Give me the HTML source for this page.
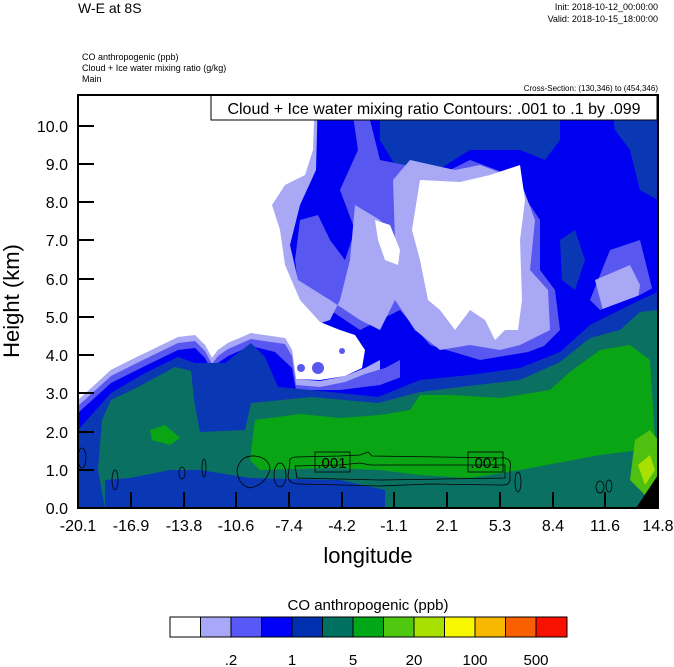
<!DOCTYPE html>
<html><head><meta charset="utf-8"><style>
html,body{margin:0;padding:0;background:#fff}
svg{display:block;font-family:"Liberation Sans",sans-serif}
</style></head><body>
<svg width="674" height="667" viewBox="0 0 674 667" xmlns="http://www.w3.org/2000/svg">
<text x="78" y="13" font-size="14">W-E at 8S</text>
<text x="658" y="10" font-size="9" text-anchor="end">Init: 2018-10-12_00:00:00</text>
<text x="658" y="22" font-size="9" text-anchor="end">Valid: 2018-10-15_18:00:00</text>
<text x="82" y="60" font-size="9">CO anthropogenic   (ppb)</text>
<text x="82" y="71" font-size="9">Cloud + Ice water mixing ratio   (g/kg)</text>
<text x="82" y="82" font-size="9">Main</text>
<text x="658" y="91" font-size="8" text-anchor="end">Cross-Section: (130,346) to (454,346)</text>
<clipPath id="c"><rect x="78" y="95" width="580" height="413"/></clipPath>
<g clip-path="url(#c)">
<rect x="78" y="95" width="580" height="413" fill="#0000f0"/>
<path d="M380,95 L560,95 L560,140 L545,160 L520,150 L470,150 L430,175 L395,165 L380,140Z" fill="#0a38b4"/>
<path d="M610,95 L658,95 L658,200 L640,190 L630,150 L615,130Z" fill="#0a38b4"/>
<path d="M560,240 L575,230 L585,260 L575,290 L562,280Z" fill="#0a38b4"/>
<path d="M300,95 L350,95 L358,150 L340,190 L355,230 L345,260 L330,240 L318,215 L300,220 L295,260 L300,300 L330,310 L360,330 L400,310 L430,345 L480,360 L540,350 L560,330 L555,290 L540,270 L540,220 L510,175 L470,160 L440,175 L405,165 L380,160 L370,120 L375,95Z" fill="#5858f0"/>
<path d="M610,250 L640,240 L655,300 L640,330 L610,320 L590,300Z" fill="#5858f0"/>
<path d="M78,95 L318,95 L316,170 L300,205 L290,245 L298,280 L330,300 L360,320 L380,330 L395,300 L415,330 L440,350 L470,345 L500,350 L520,345 L550,330 L548,290 L530,270 L535,220 L520,180 L480,165 L455,170 L410,160 L393,180 L395,240 L380,220 L355,205 L350,260 L340,300 L330,320 L300,330 L280,340 L250,345 L220,335 L200,345 L170,350 L140,355 L110,370 L90,390 L78,410Z" fill="#a8a8f5"/>
<path d="M595,280 L630,265 L640,285 L635,320 L605,318Z" fill="#a8a8f5"/>
<path d="M375,220 L390,225 L400,250 L398,265 L385,260 L378,240Z" fill="#fff"/>
<path d="M420,180 L460,182 L490,175 L520,165 L525,200 L520,240 L522,300 L518,330 L505,330 L495,340 L485,320 L470,310 L455,330 L440,310 L428,300 L420,260 L412,230Z" fill="#fff"/>
<!-- lower bands -->
<path d="M78,400 L111,370 L145,353 L178,337 L195,335 L205,345 L212,358 L218,350 L228,343 L251,333 L285,338 L292,350 L296,379 L320,381 L345,376 L365,368 L380,360 L380,508 L78,508Z" fill="#a8a8f5"/>
<path d="M78,406 L111,376 L145,359 L178,343 L195,341 L205,351 L212,364 L218,356 L228,349 L251,339 L285,344 L292,356 L296,385 L320,387 L345,382 L365,374 L385,368 L400,360 L400,508 L78,508Z" fill="#5858f0"/>
<path d="M78,413 L111,383 L145,366 L178,350 L195,348 L205,358 L212,371 L218,363 L228,356 L251,346 L275,352 L292,368 L296,390 L340,390 L380,385 L420,370 L470,362 L520,355 L560,340 L600,310 L640,295 L658,285 L658,508 L78,508Z" fill="#0000f0"/>
<path d="M78,430 L111,393 L145,373 L178,357 L195,363 L225,363 L251,343 L265,357 L278,387 L311,390 L378,397 L420,380 L470,375 L520,368 L560,352 L590,325 L620,310 L640,300 L658,292 L658,508 L78,508Z" fill="#0a38b4"/>
<path d="M105,508 L98,470 L102,420 L111,400 L138,387 L175,367 L195,372 L251,403 L311,397 L378,403 L420,392 L460,387 L520,380 L560,362 L590,338 L620,330 L640,312 L658,310 L658,508 L385,508 L385,490 L340,480 L250,478 L200,470 L170,470 L130,478 L105,480Z" fill="#0a7062"/>
<path d="M191,370 L251,372 L251,403 L245,430 L200,432 L194,400Z" fill="#0a38b4"/>
<path d="M255,420 L270,418 L300,414 L340,418 L380,415 L410,410 L420,395 L450,395 L500,398 L550,390 L570,372 L600,350 L630,345 L650,360 L655,440 L640,450 L600,455 L520,470 L470,478 L420,475 L380,470 L330,468 L260,470 L250,460Z" fill="#0aa514"/>
<path d="M150,430 L165,425 L180,438 L170,445 L152,440Z" fill="#0aa514"/>
<path d="M635,440 L650,430 L658,440 L658,480 L645,495 L630,480Z" fill="#50c010"/>
<path d="M638,465 L650,455 L655,470 L645,485Z" fill="#a8e000"/>
<path d="M636,508 L658,475 L658,508Z" fill="#000"/>
<!-- white left -->
<path d="M78,95 L315,95 L313,150 L305,175 L285,185 L272,205 L280,230 L285,265 L300,300 L320,322 L340,330 L355,335 L365,350 L362,368 L345,376 L320,380 L296,379 L292,350 L285,338 L251,333 L228,343 L218,350 L212,358 L205,345 L195,335 L178,337 L145,353 L111,370 L78,400Z" fill="#fff"/>
<circle cx="301" cy="368" r="4" fill="#5858f0"/>
<circle cx="318" cy="368" r="6" fill="#5858f0"/>
<circle cx="342" cy="351" r="3" fill="#5858f0"/>
<g fill="none" stroke="#000" stroke-width="0.8">
<path d="M290,462 Q288,458 296,457 L340,456 L360,455 L368,452 L372,456 L440,457 L505,458 Q512,460 510,468 L510,480 Q509,486 500,485 L430,484 L380,486 L300,484 Q288,484 288,476Z"/>
<path d="M295,466 L340,465 L360,463 L370,465 L505,465 L505,478 L380,480 L297,478Z"/>
<ellipse cx="82" cy="458" rx="4" ry="10"/>
<ellipse cx="115" cy="480" rx="3" ry="10"/>
<ellipse cx="204" cy="468" rx="2" ry="9"/>
<ellipse cx="182" cy="473" rx="3" ry="6"/>
<path d="M237,470 Q240,455 255,456 Q270,458 270,470 Q265,485 250,488 Q238,485 237,470Z"/>
<ellipse cx="280" cy="475" rx="6" ry="12"/>
<ellipse cx="518" cy="482" rx="3" ry="10"/>
<ellipse cx="600" cy="487" rx="4" ry="6"/>
<ellipse cx="609" cy="486" rx="3" ry="6"/>
</g>
<rect x="315" y="452" width="35" height="20" fill="none" stroke="#000" stroke-width="0.8"/>
<text x="332" y="468" font-size="15" text-anchor="middle">.001</text>
<rect x="468" y="452" width="35" height="20" fill="none" stroke="#000" stroke-width="0.8"/>
<text x="485" y="468" font-size="15" text-anchor="middle">.001</text>
</g>
<rect x="211" y="95" width="446" height="25" fill="#fff" stroke="#000" stroke-width="1"/>
<text x="434" y="114" font-size="16" text-anchor="middle">Cloud + Ice water mixing ratio Contours: .001 to .1 by .099</text>
<rect x="78" y="95" width="580" height="413" fill="none" stroke="#000" stroke-width="2"/>
<g stroke="#000" stroke-width="2">
<line x1="78" y1="126" x2="94" y2="126"/><line x1="78" y1="164" x2="94" y2="164"/><line x1="78" y1="202" x2="94" y2="202"/><line x1="78" y1="240" x2="94" y2="240"/><line x1="78" y1="279" x2="94" y2="279"/><line x1="78" y1="317" x2="94" y2="317"/><line x1="78" y1="355" x2="94" y2="355"/><line x1="78" y1="393" x2="94" y2="393"/><line x1="78" y1="432" x2="94" y2="432"/><line x1="78" y1="470" x2="94" y2="470"/>
<line x1="131" y1="508" x2="131" y2="492"/><line x1="184" y1="508" x2="184" y2="492"/><line x1="236" y1="508" x2="236" y2="492"/><line x1="289" y1="508" x2="289" y2="492"/><line x1="342" y1="508" x2="342" y2="492"/><line x1="394" y1="508" x2="394" y2="492"/><line x1="447" y1="508" x2="447" y2="492"/><line x1="500" y1="508" x2="500" y2="492"/><line x1="553" y1="508" x2="553" y2="492"/><line x1="605" y1="508" x2="605" y2="492"/>
</g>
<g font-size="16" text-anchor="end">
<text x="68" y="132">10.0</text><text x="68" y="170">9.0</text><text x="68" y="208">8.0</text><text x="68" y="246">7.0</text><text x="68" y="285">6.0</text><text x="68" y="323">5.0</text><text x="68" y="361">4.0</text><text x="68" y="399">3.0</text><text x="68" y="438">2.0</text><text x="68" y="476">1.0</text><text x="68" y="514">0.0</text>
</g>
<g font-size="16" text-anchor="middle">
<text x="78" y="531">-20.1</text><text x="131" y="531">-16.9</text><text x="184" y="531">-13.8</text><text x="236" y="531">-10.6</text><text x="289" y="531">-7.4</text><text x="342" y="531">-4.2</text><text x="394" y="531">-1.1</text><text x="447" y="531">2.1</text><text x="500" y="531">5.3</text><text x="553" y="531">8.4</text><text x="605" y="531">11.6</text><text x="658" y="531">14.8</text>
</g>
<text x="368" y="563" font-size="22" text-anchor="middle">longitude</text>
<text transform="translate(19,301) rotate(-90)" font-size="22" text-anchor="middle">Height (km)</text>
<text x="368" y="610" font-size="15" text-anchor="middle">CO anthropogenic  (ppb)</text>
<g stroke="#000" stroke-width="1">
<rect x="170" y="617" width="30.5" height="20" fill="#fff"/>
<rect x="200.5" y="617" width="30.5" height="20" fill="#a8a8f8"/>
<rect x="231" y="617" width="30.5" height="20" fill="#5858f8"/>
<rect x="261.5" y="617" width="30.5" height="20" fill="#0000f8"/>
<rect x="292" y="617" width="30.5" height="20" fill="#0030b0"/>
<rect x="322.5" y="617" width="30.5" height="20" fill="#007060"/>
<rect x="353" y="617" width="30.5" height="20" fill="#00a818"/>
<rect x="383.5" y="617" width="30.5" height="20" fill="#50c810"/>
<rect x="414" y="617" width="30.5" height="20" fill="#a8e000"/>
<rect x="444.5" y="617" width="30.5" height="20" fill="#f8f800"/>
<rect x="475" y="617" width="30.5" height="20" fill="#f8b800"/>
<rect x="505.5" y="617" width="30.5" height="20" fill="#f86000"/>
<rect x="536" y="617" width="31" height="20" fill="#f81000"/>
</g>
<g font-size="15" text-anchor="middle">
<text x="231" y="665">.2</text><text x="292" y="665">1</text><text x="353" y="665">5</text><text x="414" y="665">20</text><text x="475" y="665">100</text><text x="536" y="665">500</text>
</g>
</svg>
</body></html>
